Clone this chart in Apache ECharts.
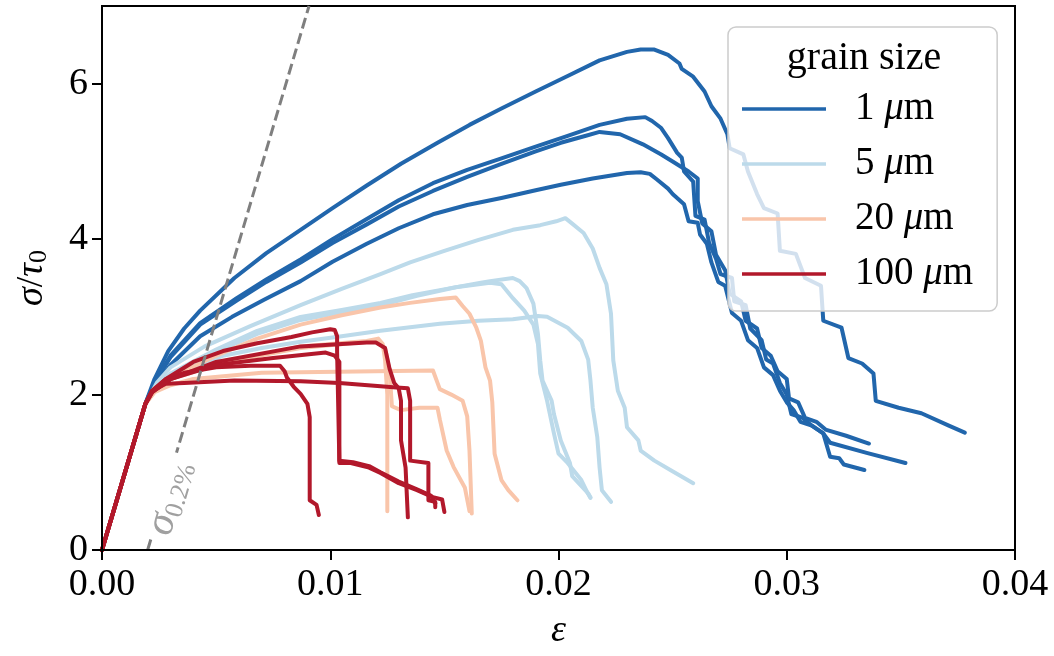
<!DOCTYPE html>
<html><head><meta charset="utf-8">
<script src="https://cdn.jsdelivr.net/npm/echarts@6/dist/echarts.min.js"></script>
<style>html,body{margin:0;padding:0;background:#fff}#c{width:1054px;height:656px}</style>
</head><body><div id="c"></div><script>
// ---- tick labels ----
const xTicks = [0, 0.01, 0.02, 0.03, 0.04];
const yTicks = [0, 2, 4, 6];
const grainSizes = ['1 μm', '5 μm', '20 μm', '100 μm'];

// ---- 1 µm curves ----
const g1_a = [[0,0],[0.0019,1.88],[0.0023,2.2],[0.0029,2.56],[0.0036,2.85],[0.0043,3.08],[0.0058,3.5],[0.0072,3.82],[0.0087,4.12],[0.0101,4.4],[0.0116,4.69],[0.0131,4.97],[0.0147,5.24],[0.0161,5.47],[0.0175,5.68],[0.019,5.9],[0.0204,6.1],[0.0218,6.3],[0.023,6.41],[0.0236,6.44],[0.0242,6.44],[0.0248,6.37],[0.0253,6.26],[0.0254,6.19],[0.0259,6.09],[0.0264,5.9],[0.0267,5.71],[0.0271,5.55],[0.0274,5.35],[0.0275,5.17],[0.0281,5.09],[0.0283,4.87],[0.0287,4.58],[0.029,4.4],[0.0296,4.33],[0.0297,3.85],[0.0304,3.81],[0.0308,3.5],[0.0315,3.4],[0.0316,2.95],[0.0324,2.86],[0.0327,2.47],[0.0333,2.4],[0.0338,2.27],[0.0339,1.92],[0.0349,1.83],[0.0359,1.76],[0.0371,1.6],[0.0378,1.51]];
const g1_b = [[0,0],[0.0019,1.88],[0.0023,2.15],[0.003,2.5],[0.0043,2.92],[0.0059,3.24],[0.0072,3.48],[0.0087,3.74],[0.0101,4.0],[0.0116,4.26],[0.013,4.5],[0.0145,4.72],[0.016,4.89],[0.0175,5.04],[0.019,5.19],[0.0204,5.33],[0.0218,5.47],[0.023,5.55],[0.0238,5.57],[0.0241,5.52],[0.0245,5.43],[0.0248,5.3],[0.0252,5.11],[0.0254,5.05],[0.0255,4.87],[0.0259,4.74],[0.026,4.3],[0.0264,4.25],[0.0266,3.95],[0.0269,3.75],[0.0271,3.55],[0.0276,3.5],[0.0277,3.2],[0.0282,3.15],[0.0284,2.85],[0.0289,2.7],[0.0291,2.45],[0.0294,2.4],[0.0297,2.15],[0.03,2.0],[0.0302,1.75],[0.0307,1.7],[0.0311,1.6],[0.0316,1.5],[0.0319,1.38],[0.0335,1.25],[0.0352,1.12]];
const g1_c = [[0,0],[0.0019,1.88],[0.0023,2.15],[0.003,2.48],[0.0043,2.9],[0.0059,3.21],[0.0072,3.45],[0.0087,3.7],[0.0101,3.95],[0.0116,4.19],[0.013,4.42],[0.0145,4.62],[0.016,4.8],[0.0175,4.97],[0.019,5.13],[0.0201,5.24],[0.0212,5.33],[0.0218,5.38],[0.0227,5.35],[0.0237,5.22],[0.0245,5.09],[0.025,5.0],[0.0257,4.87],[0.0261,4.78],[0.0261,4.49],[0.0263,4.2],[0.0267,4.1],[0.0269,3.8],[0.0273,3.6],[0.0275,3.3],[0.028,3.2],[0.0282,2.95],[0.0287,2.85],[0.0289,2.6],[0.0293,2.5],[0.0296,2.3],[0.03,2.2],[0.0301,1.95],[0.0305,1.9],[0.0308,1.7],[0.0313,1.65],[0.0317,1.55],[0.0326,1.47],[0.0336,1.37]];
const g1_d = [[0,0],[0.0019,1.88],[0.0023,2.1],[0.003,2.38],[0.0043,2.75],[0.0057,3.0],[0.0071,3.22],[0.0087,3.46],[0.0101,3.71],[0.0116,3.94],[0.013,4.14],[0.0145,4.32],[0.016,4.44],[0.0175,4.53],[0.019,4.63],[0.0201,4.7],[0.0215,4.78],[0.023,4.85],[0.0236,4.86],[0.024,4.84],[0.0243,4.77],[0.0248,4.65],[0.025,4.58],[0.0255,4.45],[0.0257,4.23],[0.0261,4.21],[0.0262,4.06],[0.0265,3.94],[0.0267,3.7],[0.027,3.45],[0.0273,3.4],[0.0276,3.05],[0.028,2.95],[0.0283,2.7],[0.0287,2.6],[0.029,2.35],[0.0294,2.25],[0.0297,2.05],[0.03,1.9],[0.0303,1.8],[0.0306,1.65],[0.0311,1.6],[0.0316,1.5],[0.0318,1.3],[0.0319,1.2],[0.0323,1.18],[0.0325,1.1],[0.0334,1.03]];

// ---- 5 µm curves ----
const g5_a = [[0,0],[0.0019,1.88],[0.0024,2.15],[0.003,2.35],[0.0045,2.62],[0.0065,2.88],[0.0087,3.15],[0.0105,3.36],[0.0122,3.55],[0.0135,3.7],[0.015,3.85],[0.0165,3.99],[0.018,4.12],[0.0192,4.18],[0.0199,4.23],[0.0203,4.27],[0.0206,4.2],[0.0211,4.08],[0.0215,3.88],[0.0218,3.63],[0.0221,3.42],[0.0223,3.04],[0.0224,2.44],[0.0226,2.05],[0.0229,1.83],[0.023,1.58],[0.0235,1.41],[0.0236,1.28],[0.0242,1.15],[0.0249,1.03],[0.0259,0.86]];
const g5_b = [[0,0],[0.0019,1.88],[0.0024,2.1],[0.003,2.27],[0.005,2.58],[0.0068,2.82],[0.0087,3.0],[0.0105,3.09],[0.0122,3.18],[0.0136,3.28],[0.0151,3.36],[0.0166,3.44],[0.017,3.46],[0.018,3.5],[0.0183,3.46],[0.0186,3.37],[0.0189,3.17],[0.0191,2.78],[0.0192,2.44],[0.0193,2.18],[0.0197,1.92],[0.0198,1.75],[0.0201,1.41],[0.0205,1.12],[0.0206,0.95],[0.0213,0.73],[0.0214,0.68]];
const g5_c = [[0,0],[0.0019,1.88],[0.0024,2.1],[0.003,2.25],[0.005,2.55],[0.0068,2.78],[0.0087,2.96],[0.0105,3.06],[0.0122,3.15],[0.0138,3.27],[0.0155,3.38],[0.017,3.44],[0.0175,3.42],[0.018,3.24],[0.0185,3.08],[0.0189,2.9],[0.0191,2.65],[0.0192,2.27],[0.0195,1.92],[0.0198,1.5],[0.02,1.24],[0.0204,1.12],[0.021,0.9],[0.0213,0.72],[0.0214,0.67]];
const g5_d = [[0,0],[0.0019,1.88],[0.0024,2.08],[0.003,2.2],[0.0053,2.5],[0.007,2.6],[0.0087,2.68],[0.0105,2.75],[0.0122,2.82],[0.0148,2.91],[0.0165,2.95],[0.018,2.97],[0.0191,3.01],[0.0195,3.0],[0.0204,2.86],[0.021,2.69],[0.0213,2.45],[0.0214,2.18],[0.0215,1.83],[0.0217,1.45],[0.0218,1.06],[0.0219,0.77],[0.0223,0.62]];

// ---- 20 µm curves ----
const g20_a = [[0,0],[0.0019,1.88],[0.0023,2.08],[0.003,2.22],[0.005,2.5],[0.0068,2.72],[0.0087,2.9],[0.0105,3.02],[0.0122,3.12],[0.0135,3.18],[0.0148,3.23],[0.0155,3.25],[0.0158,3.14],[0.0161,3.04],[0.0164,2.86],[0.0166,2.69],[0.0168,2.35],[0.017,2.18],[0.0171,1.9],[0.0172,1.24],[0.0175,0.9],[0.0178,0.77],[0.0182,0.64]];
const g20_b = [[0,0],[0.0019,1.88],[0.0023,2.05],[0.003,2.2],[0.005,2.4],[0.0087,2.6],[0.0116,2.68],[0.012,2.68],[0.0124,2.6],[0.0126,2.3],[0.0127,1.85],[0.0131,1.8],[0.0139,1.83],[0.0147,1.83],[0.0148,1.68],[0.0151,1.28],[0.0154,1.07],[0.0159,0.8],[0.0161,0.5]];
const g20_c = [[0,0],[0.0019,1.88],[0.0023,2.05],[0.003,2.2],[0.005,2.38],[0.0087,2.62],[0.0116,2.69],[0.0121,2.72],[0.0123,2.65],[0.0124,2.45],[0.0125,2.0],[0.0125,0.5]];
const g20_d = [[0,0],[0.0019,1.88],[0.0023,2.03],[0.003,2.12],[0.004,2.2],[0.007,2.28],[0.0145,2.31],[0.0147,2.15],[0.0148,2.07],[0.0153,2.0],[0.0158,1.92],[0.016,1.72],[0.0161,1.28],[0.0162,0.47]];

// ---- 100 µm curves ----
const g100_a = [[0,0],[0.0019,1.88],[0.0022,2.05],[0.0028,2.2],[0.004,2.42],[0.0053,2.56],[0.0068,2.66],[0.0083,2.74],[0.0092,2.8],[0.01,2.84],[0.0102,2.83],[0.0103,2.75],[0.0103,2.55],[0.0104,1.12],[0.0109,1.12],[0.0117,1.06],[0.0122,0.99],[0.013,0.86],[0.0138,0.77],[0.0145,0.68],[0.0149,0.65],[0.015,0.49]];
const g100_b = [[0,0],[0.0019,1.88],[0.0022,2.03],[0.003,2.2],[0.005,2.42],[0.0087,2.62],[0.0116,2.67],[0.012,2.67],[0.0124,2.6],[0.0126,2.33],[0.0128,2.15],[0.013,2.08],[0.0131,1.92],[0.0131,1.41],[0.0133,1.06],[0.0134,0.42]];
const g100_c = [[0,0],[0.0019,1.88],[0.0022,2.05],[0.0028,2.14],[0.0036,2.15],[0.0058,2.18],[0.0087,2.17],[0.0104,2.15],[0.0129,2.09],[0.0134,2.08],[0.0135,1.92],[0.0135,1.15],[0.0143,1.12],[0.0143,0.64],[0.0146,0.62],[0.0146,0.55]];
const g100_d = [[0,0],[0.0019,1.88],[0.0022,2.05],[0.0028,2.2],[0.0036,2.28],[0.005,2.35],[0.0065,2.37],[0.0078,2.37],[0.008,2.3],[0.0081,2.22],[0.0084,2.1],[0.0087,2.01],[0.009,1.88],[0.0091,1.71],[0.0091,0.64],[0.0094,0.58],[0.0095,0.45]];
const g100_e = [[0,0],[0.0019,1.88],[0.0022,2.03],[0.003,2.2],[0.005,2.38],[0.0075,2.47],[0.0098,2.54],[0.0102,2.5],[0.0104,2.42],[0.0104,1.15],[0.011,1.13],[0.0117,1.08],[0.0122,1.0],[0.013,0.88],[0.0138,0.78],[0.0144,0.7],[0.0146,0.6]];

// ---- 0.2% offset line and its label ----
const offsetLine = [[0.002,0],[0.00907,7]];
const offsetLabelAt = [0.00298,0.68];

const colors = ['#2166ac', '#bcdaea', '#f9c5aa', '#b2182b'];
const groups = [[g1_a,g1_b,g1_c,g1_d],[g5_a,g5_b,g5_c,g5_d],[g20_a,g20_b,g20_c,g20_d],[g100_a,g100_b,g100_c,g100_d,g100_e]];
const FONT = 'Liberation Serif';

const series = [];
groups.forEach((curves, gi) => {
  curves.forEach(d => {
    series.push({
      type: 'line', name: grainSizes[gi], data: d, symbol: 'none', showSymbol: false,
      lineStyle: { color: colors[gi], width: 4, cap: 'round', join: 'round' },
      itemStyle: { color: colors[gi] }, z: 2, silent: true, animation: false
    });
  });
});
series.push({
  type: 'line', data: offsetLine, symbol: 'none', silent: true, animation: false, z: 3,
  lineStyle: { color: '#7f7f7f', width: 3, type: [11, 5] }
});

const titleGraphic = {
  id: 'legendTitle', type: 'text', x: 864, y: 58, z: 100, silent: true,
  style: { text: 'grain size', fontFamily: FONT, fontSize: 40, fill: '#000', align: 'center', verticalAlign: 'middle' }
};

const chart = echarts.init(document.getElementById('c'), null, { renderer: 'canvas' });
chart.setOption({
  animation: false,
  backgroundColor: '#ffffff',
  grid: { left: 102, right: 39, top: 6, bottom: 106, show: true, borderColor: '#000', borderWidth: 2, backgroundColor: 'transparent' },
  xAxis: {
    type: 'value', min: 0, max: 0.04, interval: 0.01, z: 60,
    name: 'ε', nameLocation: 'middle', nameGap: 62,
    nameTextStyle: { fontFamily: FONT, fontStyle: 'italic', fontSize: 38, color: '#000' },
    axisLine: { show: true, onZero: false, lineStyle: { color: '#000', width: 2 } },
    axisTick: { show: true, inside: false, length: 10, lineStyle: { color: '#000', width: 2 }, customValues: xTicks },
    axisLabel: { fontFamily: FONT, fontSize: 38, color: '#000', margin: 16, customValues: xTicks, formatter: v => v.toFixed(2) },
    splitLine: { show: false }
  },
  yAxis: {
    type: 'value', min: 0, max: 7, interval: 1, z: 60,
    name: '{i|σ}{n|/}{i|τ}{b|0}', nameLocation: 'middle', nameGap: 50, nameRotate: 90,
    nameTextStyle: {
      fontFamily: FONT, fontSize: 38, color: '#000',
      rich: {
        i: { fontFamily: FONT, fontStyle: 'italic', fontSize: 38, color: '#000' },
        n: { fontFamily: FONT, fontSize: 38, color: '#000' },
        b: { fontFamily: FONT, fontSize: 26, color: '#000', padding: [14, 0, 0, 0] }
      }
    },
    axisLine: { show: true, onZero: false, lineStyle: { color: '#000', width: 2 } },
    axisTick: { show: true, inside: false, length: 10, lineStyle: { color: '#000', width: 2 }, customValues: yTicks },
    axisLabel: { fontFamily: FONT, fontSize: 38, color: '#000', margin: 14, customValues: yTicks },
    splitLine: { show: false }
  },
  legend: {
    data: grainSizes, orient: 'vertical', left: 728, top: 27,
    padding: [62, 24, 17, 14], itemGap: 15, itemWidth: 84, itemHeight: 3.5, icon: 'rect',
    backgroundColor: 'rgba(255,255,255,0.8)', borderColor: '#cccccc', borderWidth: 1.5, borderRadius: 8,
    selectedMode: false, z: 10,
    formatter: name => { const p = name.split(' '); return '{n|' + p[0] + ' }{i|μ}{n|m}'; },
    textStyle: {
      fontFamily: FONT, fontSize: 39, lineHeight: 40, color: '#000', padding: [0, 0, 0, 24],
      rich: {
        n: { fontFamily: FONT, fontSize: 39, lineHeight: 40, color: '#000' },
        i: { fontFamily: FONT, fontStyle: 'italic', fontSize: 39, lineHeight: 40, color: '#000' }
      }
    }
  },
  graphic: [titleGraphic],
  series: series
});

// place the rotated σ0.2% label on the offset line through the axes' own scales
const lp = chart.convertToPixel({ gridIndex: 0 }, offsetLabelAt);
chart.setOption({
  graphic: [titleGraphic, {
    id: 'offsetLabel', type: 'text', x: lp[0], y: lp[1], rotation: 73.5 * Math.PI / 180, z: 50, silent: true,
    style: {
      text: '{s|σ}{p|0.2%}', align: 'center', verticalAlign: 'middle',
      backgroundColor: '#ffffff', padding: [0, 8, 0, 6],
      rich: {
        s: { fontFamily: FONT, fontStyle: 'italic', fontSize: 42, fill: '#a0a0a0', lineHeight: 40 },
        p: { fontFamily: FONT, fontSize: 26, fill: '#a0a0a0', lineHeight: 40, padding: [18, 0, 0, 0] }
      }
    }
  }]
});
</script></body></html>
